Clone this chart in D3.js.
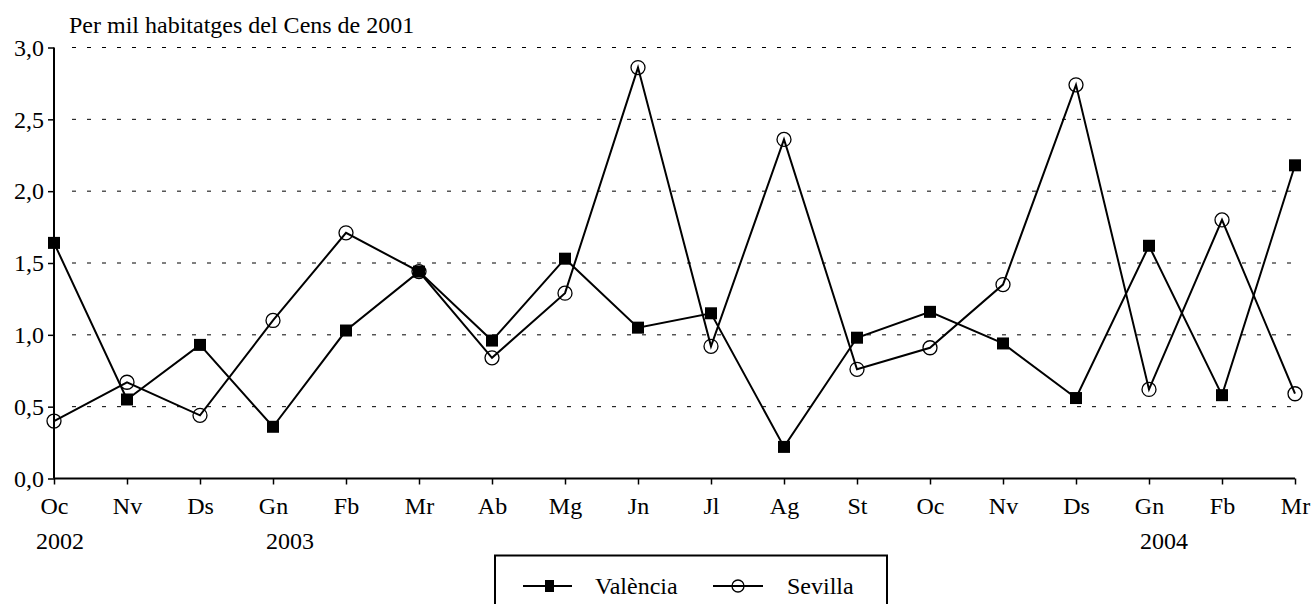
<!DOCTYPE html>
<html>
<head>
<meta charset="utf-8">
<script src="https://cdn.jsdelivr.net/npm/d3@7"></script>
<style>
  body { margin: 0; background: #fff; }
  svg { display: block; font-family: "Liberation Serif", "Times New Roman", serif; }
</style>
</head>
<body>
<div id="chart"></div>
<script>
// months shown on the x axis, Oct 2002 - Mar 2004
const months = ["Oc", "Nv", "Ds", "Gn", "Fb", "Mr", "Ab", "Mg", "Jn", "Jl", "Ag", "St", "Oc", "Nv", "Ds", "Gn", "Fb", "Mr"];
const years = ["2002", "2003", "2004"];
const yearIndex = [0, 3, 15];
const valencia = [1.64, 0.55, 0.93, 0.36, 1.03, 1.44, 0.96, 1.53, 1.05, 1.15, 0.22, 0.98, 1.16, 0.94, 0.56, 1.62, 0.58, 2.18];
const sevilla = [0.40, 0.67, 0.44, 1.10, 1.71, 1.44, 0.84, 1.29, 2.86, 0.92, 2.36, 0.76, 0.91, 1.35, 2.74, 0.62, 1.80, 0.59];
const yTicks = [0, 0.5, 1, 1.5, 2, 2.5, 3];

const width = 1311, height = 604;
const fontSize = 24;
const svg = d3.create("svg")
    .attr("width", width)
    .attr("height", height);

const x = d3.scaleLinear().domain([0, months.length - 1]).range([54, 1295]);
const y = d3.scaleLinear().domain([0, 3]).range([478.5, 47.5]);
const fmt = d => d3.format(".1f")(d).replace(".", ",");

// dotted gridlines
svg.append("g")
    .selectAll("line")
    .data(yTicks.slice(1))
    .enter().append("line")
    .attr("x1", x(0) + 18).attr("x2", x(months.length - 1))
    .attr("y1", d => y(d)).attr("y2", d => y(d))
    .attr("stroke", "#000")
    .attr("stroke-width", 1)
    .attr("stroke-dasharray", "4,11");

// y axis
const yAxis = svg.append("g")
    .attr("transform", `translate(${x(0)},0)`)
    .call(d3.axisLeft(y).tickValues(yTicks).tickFormat(fmt).tickSize(6).tickPadding(4));
yAxis.select(".domain").attr("stroke-width", 2).attr("d", `M0,${y(0)}V${y(3)}`);
yAxis.selectAll(".tick line").attr("stroke-width", 1.5);
yAxis.selectAll("text").attr("font-size", fontSize).attr("font-family", "Liberation Serif").attr("fill", "#000");

// x axis
const xAxis = svg.append("g")
    .attr("transform", `translate(0,${y(0)})`)
    .call(d3.axisBottom(x).tickValues(d3.range(months.length)).tickFormat(i => months[i]).tickSize(6).tickPadding(12));
xAxis.select(".domain").attr("stroke-width", 2).attr("d", `M${x(0)},0H${x(months.length - 1)}`);
xAxis.selectAll(".tick line").attr("stroke-width", 1.5);
xAxis.selectAll("text").attr("font-size", fontSize).attr("font-family", "Liberation Serif").attr("fill", "#000");

// years (a little right of their month tick, as in the original)
const yearShift = [6, 17, 15];
svg.append("g")
    .selectAll("text")
    .data(years)
    .enter().append("text")
    .attr("x", (d, i) => x(yearIndex[i]) + yearShift[i])
    .attr("y", 549)
    .attr("text-anchor", "middle")
    .attr("font-size", fontSize)
    .text(d => d);

// title
svg.append("text")
    .attr("x", 69)
    .attr("y", 33)
    .attr("font-size", fontSize)
    .text("Per mil habitatges del Cens de 2001");

const line = d3.line().x((d, i) => x(i)).y(d => y(d));

// Sevilla
svg.append("path")
    .datum(sevilla)
    .attr("d", line)
    .attr("fill", "none")
    .attr("stroke", "#000")
    .attr("stroke-width", 2);
svg.append("g")
    .selectAll("circle")
    .data(sevilla)
    .enter().append("circle")
    .attr("cx", (d, i) => x(i))
    .attr("cy", d => y(d))
    .attr("r", 7)
    .attr("fill", "none")
    .attr("stroke", "#000")
    .attr("stroke-width", 1.3);

// València
svg.append("path")
    .datum(valencia)
    .attr("d", line)
    .attr("fill", "none")
    .attr("stroke", "#000")
    .attr("stroke-width", 2);
svg.append("g")
    .selectAll("rect")
    .data(valencia)
    .enter().append("rect")
    .attr("x", (d, i) => x(i) - 6)
    .attr("y", d => y(d) - 6)
    .attr("width", 12)
    .attr("height", 12)
    .attr("fill", "#000");

// legend
const legend = svg.append("g");
legend.append("rect")
    .attr("x", 495).attr("y", 555.5)
    .attr("width", 392).attr("height", 60)
    .attr("fill", "#fff")
    .attr("stroke", "#000")
    .attr("stroke-width", 2);
const ly = 586;
legend.append("line").attr("x1", 523).attr("x2", 572).attr("y1", ly).attr("y2", ly).attr("stroke", "#000").attr("stroke-width", 2);
legend.append("rect").attr("x", 545).attr("y", ly - 6).attr("width", 9).attr("height", 12).attr("fill", "#000");
legend.append("text").attr("x", 595).attr("y", ly + 8).attr("font-size", fontSize).text("València");
legend.append("line").attr("x1", 713).attr("x2", 763).attr("y1", ly).attr("y2", ly).attr("stroke", "#000").attr("stroke-width", 2);
legend.append("circle").attr("cx", 738).attr("cy", ly).attr("r", 6).attr("fill", "none").attr("stroke", "#000").attr("stroke-width", 1.3);
legend.append("text").attr("x", 787).attr("y", ly + 8).attr("font-size", fontSize).text("Sevilla");

document.getElementById("chart").appendChild(svg.node());
</script>
</body>
</html>
